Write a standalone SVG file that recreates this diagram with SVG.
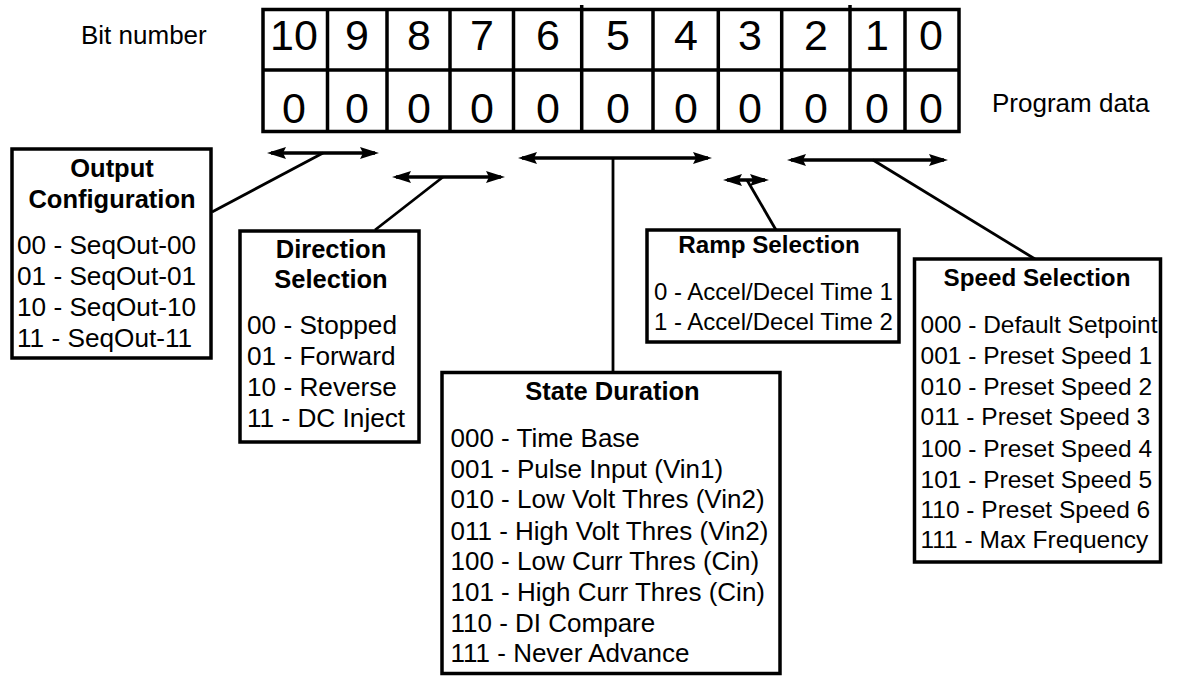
<svg xmlns="http://www.w3.org/2000/svg" width="1203" height="677" viewBox="0 0 1203 677">
<style>
text{font-family:"Liberation Sans",Arial,sans-serif;fill:#000}
.dig{font-size:43px;text-anchor:middle}
.lbl{font-size:26px}
.t{font-weight:bold;text-anchor:middle}
.box{fill:#fff;stroke:#000;stroke-width:3.5}
.grid{fill:none;stroke:#000;stroke-width:3.5}
.arr{stroke:#000;stroke-width:3.5;fill:none;marker-start:url(#ah);marker-end:url(#ah)}
.con{stroke:#000;stroke-width:2.8;fill:none}
</style>
<defs>
<marker id="ah" markerUnits="userSpaceOnUse" viewBox="0 0 19 12" refX="15" refY="6" markerWidth="19" markerHeight="12" orient="auto-start-reverse">
<path d="M0,0 L19,6 L0,12 L3,6 Z" fill="#000"/>
</marker>
</defs>
<rect width="1203" height="677" fill="#fff"/>

<g id="table">
<rect class="grid" x="263" y="9.5" width="696" height="122"/>
<path class="grid" d="M263,70H959 M327.5,9.5V131.5 M387,9.5V131.5 M450,9.5V131.5 M513.5,9.5V131.5 M581.7,5V131.5 M653,9.5V131.5 M718.3,9.5V131.5 M781.7,9.5V131.5 M850,5V131.5 M905,9.5V131.5"/>
<g class="dig">
<text x="294" y="50">10</text><text x="357" y="50">9</text><text x="419" y="50">8</text><text x="482" y="50">7</text><text x="548" y="50">6</text><text x="618" y="50">5</text><text x="686" y="50">4</text><text x="750" y="50">3</text><text x="816" y="50">2</text><text x="877" y="50">1</text><text x="931" y="50">0</text>
<text x="294" y="123">0</text><text x="357" y="123">0</text><text x="419" y="123">0</text><text x="482" y="123">0</text><text x="548" y="123">0</text><text x="618" y="123">0</text><text x="686" y="123">0</text><text x="750" y="123">0</text><text x="816" y="123">0</text><text x="877" y="123">0</text><text x="931" y="123">0</text>
</g>
<text class="lbl" x="81" y="44">Bit number</text>
<text class="lbl" x="992" y="112">Program data</text>
</g>

<g id="connectors">
<path class="arr" d="M271,153H375"/>
<path class="arr" d="M396,177H501"/>
<path class="arr" d="M522,158H708"/>
<path class="arr" d="M727,180H765"/>
<path class="arr" d="M791,160H944"/>
<path class="con" d="M323,153L212,212"/>
<path class="con" d="M443,177L375,230"/>
<path class="con" d="M613,158V372"/>
<path class="con" d="M747,180L776,230"/>
<path class="con" d="M873,160L1035,259"/>
</g>

<g id="output-configuration">
<rect class="box" x="12" y="149" width="199" height="209"/>
<g style="font-size:25.5px">
<text class="t" x="112" y="177">Output</text>
<text class="t" x="112" y="208">Configuration</text>
</g>
<g style="font-size:26.2px">
<text x="17" y="254">00 - SeqOut-00</text>
<text x="17" y="285">01 - SeqOut-01</text>
<text x="17" y="316">10 - SeqOut-10</text>
<text x="17" y="347">11 - SeqOut-11</text>
</g>
</g>

<g id="direction-selection">
<rect class="box" x="240" y="231" width="179" height="211"/>
<g style="font-size:25.5px">
<text class="t" x="331" y="258">Direction</text>
<text class="t" x="331" y="288">Selection</text>
</g>
<g style="font-size:26.2px">
<text x="247" y="334">00 - Stopped</text>
<text x="247" y="365">01 - Forward</text>
<text x="247" y="396">10 - Reverse</text>
<text x="247" y="427">11 - DC Inject</text>
</g>
</g>

<g id="ramp-selection">
<rect class="box" x="647" y="230" width="252" height="112"/>
<text class="t" x="769" y="253" style="font-size:24.2px">Ramp Selection</text>
<g style="font-size:24px">
<text x="654" y="300">0 - Accel/Decel Time 1</text>
<text x="654" y="330">1 - Accel/Decel Time 2</text>
</g>
</g>

<g id="speed-selection">
<rect class="box" x="914.5" y="259" width="246" height="303"/>
<text class="t" x="1037" y="286" style="font-size:24.2px">Speed Selection</text>
<g style="font-size:24.5px">
<text x="920.5" y="333">000 - Default Setpoint</text>
<text x="920.5" y="364">001 - Preset Speed 1</text>
<text x="920.5" y="395">010 - Preset Speed 2</text>
<text x="920.5" y="425">011 - Preset Speed 3</text>
<text x="920.5" y="457">100 - Preset Speed 4</text>
<text x="920.5" y="488">101 - Preset Speed 5</text>
<text x="920.5" y="518">110 - Preset Speed 6</text>
<text x="920.5" y="548">111 - Max Frequency</text>
</g>
</g>

<g id="state-duration">
<rect class="box" x="442" y="372.5" width="338" height="301"/>
<text class="t" x="612.5" y="400" style="font-size:25.5px">State Duration</text>
<g style="font-size:26px">
<text x="450.5" y="447">000 - Time Base</text>
<text x="450.5" y="478">001 - Pulse Input (Vin1)</text>
<text x="450.5" y="508">010 - Low Volt Thres (Vin2)</text>
<text x="450.5" y="540">011 - High Volt Thres (Vin2)</text>
<text x="450.5" y="570">100 - Low Curr Thres (Cin)</text>
<text x="450.5" y="601">101 - High Curr Thres (Cin)</text>
<text x="450.5" y="632">110 - DI Compare</text>
<text x="450.5" y="662">111 - Never Advance</text>
</g>
</g>
</svg>
